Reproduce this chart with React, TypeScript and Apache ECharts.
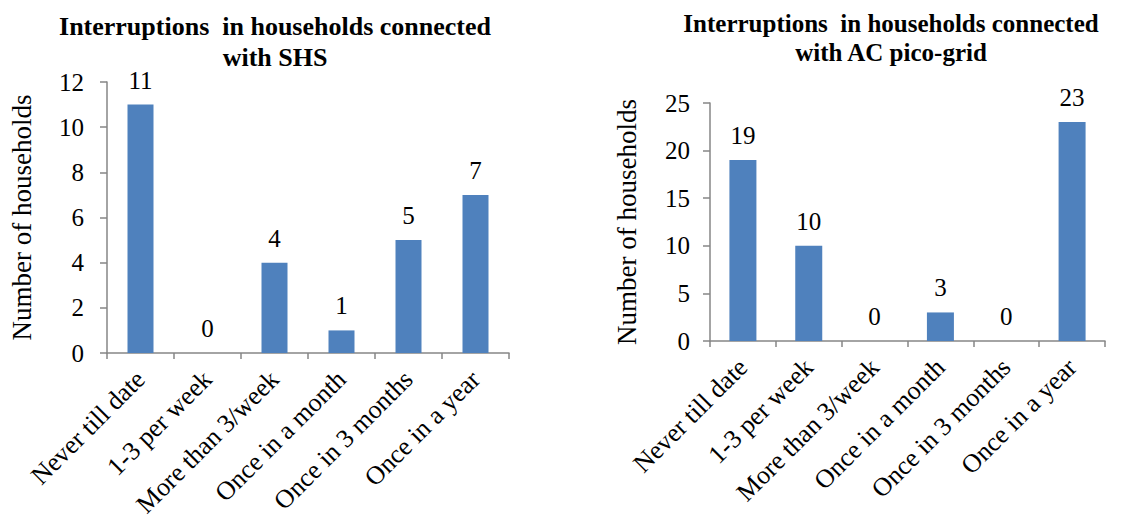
import React, { useEffect, useRef } from "react";
import * as echarts from "echarts";

const categories = [
  "Never till date",
  "1-3 per week",
  "More than 3/week",
  "Once in a month",
  "Once in 3 months",
  "Once in a year",
];
const shsValues = [11, 0, 4, 1, 5, 7];
const picoValues = [19, 10, 0, 3, 0, 23];
const shsTitle = "Interruptions  in households connected\nwith SHS";
const picoTitle = "Interruptions  in households connected\nwith AC pico-grid";
const yAxisName = "Number of households";

const FONT = "Liberation Serif";
const AXIS_COLOR = "#868686";
const BAR_COLOR = "#4F81BD";

export default function App() {
  const ref = useRef<HTMLDivElement>(null);
  useEffect(() => {
    if (!ref.current) return;
    const chart = echarts.init(ref.current, undefined, { renderer: "svg" });
    const yAxisBase = (gridIndex: number, max: number, interval: number, margin: number, nameGap: number) => ({
      type: "value" as const,
      gridIndex,
      min: 0,
      max,
      interval,
      name: yAxisName,
      nameLocation: "middle" as const,
      nameGap,
      nameTextStyle: { fontFamily: FONT, fontSize: 27, color: "#000" },
      axisLine: { show: true, lineStyle: { color: AXIS_COLOR, width: 1.5 } },
      axisTick: { show: true, length: 7, lineStyle: { color: AXIS_COLOR, width: 1.5 } },
      axisLabel: { fontFamily: FONT, fontSize: 25, color: "#000", margin },
      splitLine: { show: false },
    });
    const xAxisBase = (gridIndex: number) => ({
      type: "category" as const,
      gridIndex,
      data: categories,
      axisLine: { show: true, lineStyle: { color: AXIS_COLOR, width: 1.5 } },
      axisTick: { show: true, length: 6, lineStyle: { color: AXIS_COLOR, width: 1.5 } },
      axisLabel: {
        fontFamily: FONT,
        fontSize: 26,
        color: "#000",
        rotate: 45,
        interval: 0,
        margin: 22,
      },
    });
    const barSeries = (idx: number, data: number[], width: number) => ({
      type: "bar" as const,
      xAxisIndex: idx,
      yAxisIndex: idx,
      data,
      barWidth: width,
      itemStyle: { color: BAR_COLOR },
      label: {
        show: true,
        position: "top" as const,
        distance: 12,
        fontFamily: FONT,
        fontSize: 25,
        color: "#000",
      },
    });
    chart.setOption({
      animation: false,
      backgroundColor: "#fff",
      title: [
        {
          text: shsTitle,
          left: 270,
          top: 6,
          textAlign: "center",
          textStyle: { fontFamily: FONT, fontSize: 26, fontWeight: "bold", color: "#000", lineHeight: 31 },
        },
        {
          text: picoTitle,
          left: 886,
          top: 4,
          textAlign: "center",
          textStyle: { fontFamily: FONT, fontSize: 25, fontWeight: "bold", color: "#000", lineHeight: 29 },
        },
      ],
      grid: [
        { left: 107, top: 82, width: 402, height: 271 },
        { left: 710, top: 103, width: 395, height: 238 },
      ],
      xAxis: [xAxisBase(0), xAxisBase(1)],
      yAxis: [yAxisBase(0, 12, 2, 23, 72), yAxisBase(1, 25, 5, 20, 70)],
      series: [barSeries(0, shsValues, 26), barSeries(1, picoValues, 27)],
    });
    return () => chart.dispose();
  }, []);
  return (
    <div
      ref={ref}
      style={{ position: "absolute", left: 0, top: 0, width: 1121, height: 524 }}
    />
  );
}
